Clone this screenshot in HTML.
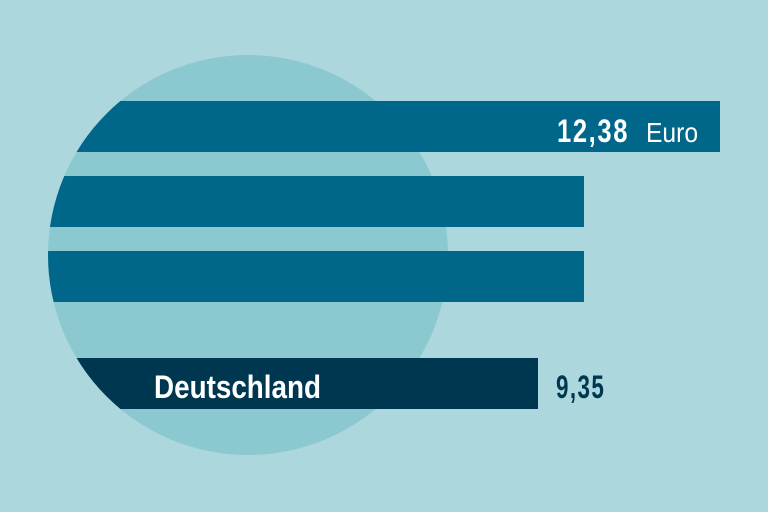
<!DOCTYPE html>
<html><head><meta charset="utf-8"><style>
html,body{margin:0;padding:0;background:#abd7dd;}
svg{display:block}
text{font-family:"Liberation Sans",sans-serif;}
</style></head><body>
<svg width="768" height="512" viewBox="0 0 768 512">
<rect width="768" height="512" fill="#abd7dd"/>
<circle cx="248" cy="255" r="200" fill="#8cc8d0"/>
<defs><clipPath id="c"><circle cx="248" cy="255" r="200"/><rect x="248" y="0" width="520" height="512"/></clipPath></defs>
<g clip-path="url(#c)">
<rect x="0" y="101" width="720" height="51" fill="#01678a"/>
<rect x="0" y="176" width="584" height="51" fill="#01678a"/>
<rect x="0" y="251" width="584" height="51" fill="#01678a"/>
<rect x="0" y="358" width="538" height="51" fill="#003750"/>
</g>
<text x="557" y="142" fill="#fff" font-size="32" font-weight="bold" transform="translate(557 0) scale(0.8 1) translate(-557 0)" letter-spacing="2">12,38</text>
<text x="646" y="142" fill="#fff" font-size="28" transform="translate(646 0) scale(0.88 1) translate(-646 0)">Euro</text>
<text x="154" y="398" fill="#fff" font-size="32" font-weight="bold" transform="translate(154 0) scale(0.87 1) translate(-154 0)">Deutschland</text>
<text x="556" y="398" fill="#003750" font-size="32" font-weight="bold" transform="translate(556 0) scale(0.7 1) translate(-556 0)" letter-spacing="2">9,35</text>
</svg>
</body></html>
